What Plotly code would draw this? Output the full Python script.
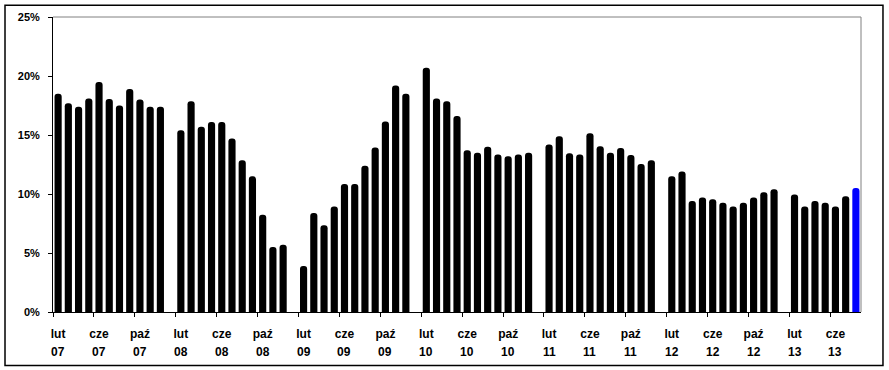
import plotly.graph_objects as go

# ---- data ----
month_names = ["sty", "lut", "mar", "kwi", "maj", "cze", "lip", "sie", "wrz", "paź", "lis", "gru"]
years = [2007, 2008, 2009, 2010, 2011, 2012, 2013]

# values Feb-Dec each year (January has no bar)
v2007 = [18.5, 17.7, 17.4, 18.1, 19.5, 18.05, 17.5, 18.9, 18.0, 17.4, 17.4]
v2008 = [15.4, 17.85, 15.7, 16.1, 16.1, 14.7, 12.85, 11.5, 8.25, 5.5, 5.7]
v2009 = [3.9, 8.4, 7.35, 8.95, 10.85, 10.85, 12.4, 13.95, 16.15, 19.2, 18.5]
v2010 = [20.7, 18.1, 17.85, 16.6, 13.7, 13.5, 14.0, 13.35, 13.2, 13.35, 13.5]
v2011 = [14.2, 14.9, 13.45, 13.35, 15.15, 14.05, 13.5, 13.9, 13.3, 12.55, 12.85]
v2012 = [11.5, 11.9, 9.4, 9.7, 9.55, 9.25, 8.95, 9.25, 9.7, 10.15, 10.4]
v2013 = [9.95, 8.95, 9.4, 9.25, 8.95, 9.8, 10.5]  # Feb-Aug

label_months = [2, 6, 10]  # lut, cze, paź
y_ticks = [0, 5, 10, 15, 20, 25]

# ---- build series ----
yearly = [v2007, v2008, v2009, v2010, v2011, v2012, v2013]
months = []   # (year, month)
values = []
for yr, vals in zip(years, yearly):
    start = 1 if yr == 2007 else 0
    n = 12 if yr < 2013 else 8
    for m in range(start + 1, n + 1):
        months.append((yr, m))
        if m == 1:
            values.append(None)
        else:
            values.append(vals[m - 2])

x_idx = list(range(len(months)))
colors = ["#000000"] * len(values)
colors[-1] = "#0000FF"

lab_pos = [i for i, (yr, m) in enumerate(months) if m in label_months]
lab_month = [month_names[months[i][1] - 1] for i in lab_pos]
lab_year = ["%02d" % (months[i][0] % 100) for i in lab_pos]
boundaries = [p - 0.5 for p in lab_pos]

FAM = "Liberation Sans, Arial, sans-serif"

fig = go.Figure()
fig.add_trace(go.Bar(
    x=x_idx, y=values,
    marker=dict(color=colors, line=dict(width=0), cornerradius=3),
    width=0.7,
    hoverinfo="skip",
))

fig.update_layout(
    width=889, height=370,
    margin=dict(l=53, r=28, t=17, b=58),
    paper_bgcolor="white", plot_bgcolor="white",
    showlegend=False,
    font=dict(family=FAM, size=11, color="#000000"),
    xaxis=dict(
        range=[-0.5, len(months) - 0.5],
        tickmode="array", tickvals=lab_pos, ticktext=["<b>%s</b>" % t for t in lab_month],
        ticks="", ticklabelstandoff=11,
        showline=True, linecolor="#000000", linewidth=1,
        showgrid=False, zeroline=False,
        minor=dict(tickmode="array", tickvals=boundaries, ticks="outside",
                   ticklen=4, tickcolor="#000000", tickwidth=1, showgrid=False),
        tickfont=dict(family=FAM, size=12, color="#000"),
        fixedrange=True,
    ),
    yaxis=dict(
        range=[0, 25],
        tickmode="array", tickvals=y_ticks, ticktext=["<b>%d%%</b>" % t for t in y_ticks],
        ticks="outside", ticklen=4, tickcolor="#000000",
        ticklabelstandoff=6,
        showline=True, linecolor="#000000", linewidth=1,
        showgrid=False, zeroline=False,
        tickfont=dict(family=FAM, size=11, color="#000"),
        fixedrange=True,
    ),
)

# year line of the tick labels
for p, t in zip(lab_pos, lab_year):
    fig.add_annotation(x=p, y=0, xref="x", yref="paper", text="<b>%s</b>" % t,
                       showarrow=False, yanchor="middle", yshift=-40,
                       font=dict(family=FAM, size=12, color="#000"))

# plot area border (top/right gray)
fig.add_shape(type="line", xref="paper", yref="paper", x0=0, x1=1, y0=1, y1=1,
              line=dict(color="#808080", width=1))
fig.add_shape(type="line", xref="paper", yref="paper", x0=1, x1=1, y0=0, y1=1,
              line=dict(color="#808080", width=1))
# outer chart frame
fig.add_shape(type="rect", xref="paper", yref="paper",
              x0=-0.0594, x1=1.0272, y0=-0.1817, y1=1.0396,
              line=dict(color="#000000", width=1.5), fillcolor="rgba(0,0,0,0)")

fig.write_html("out.html")
